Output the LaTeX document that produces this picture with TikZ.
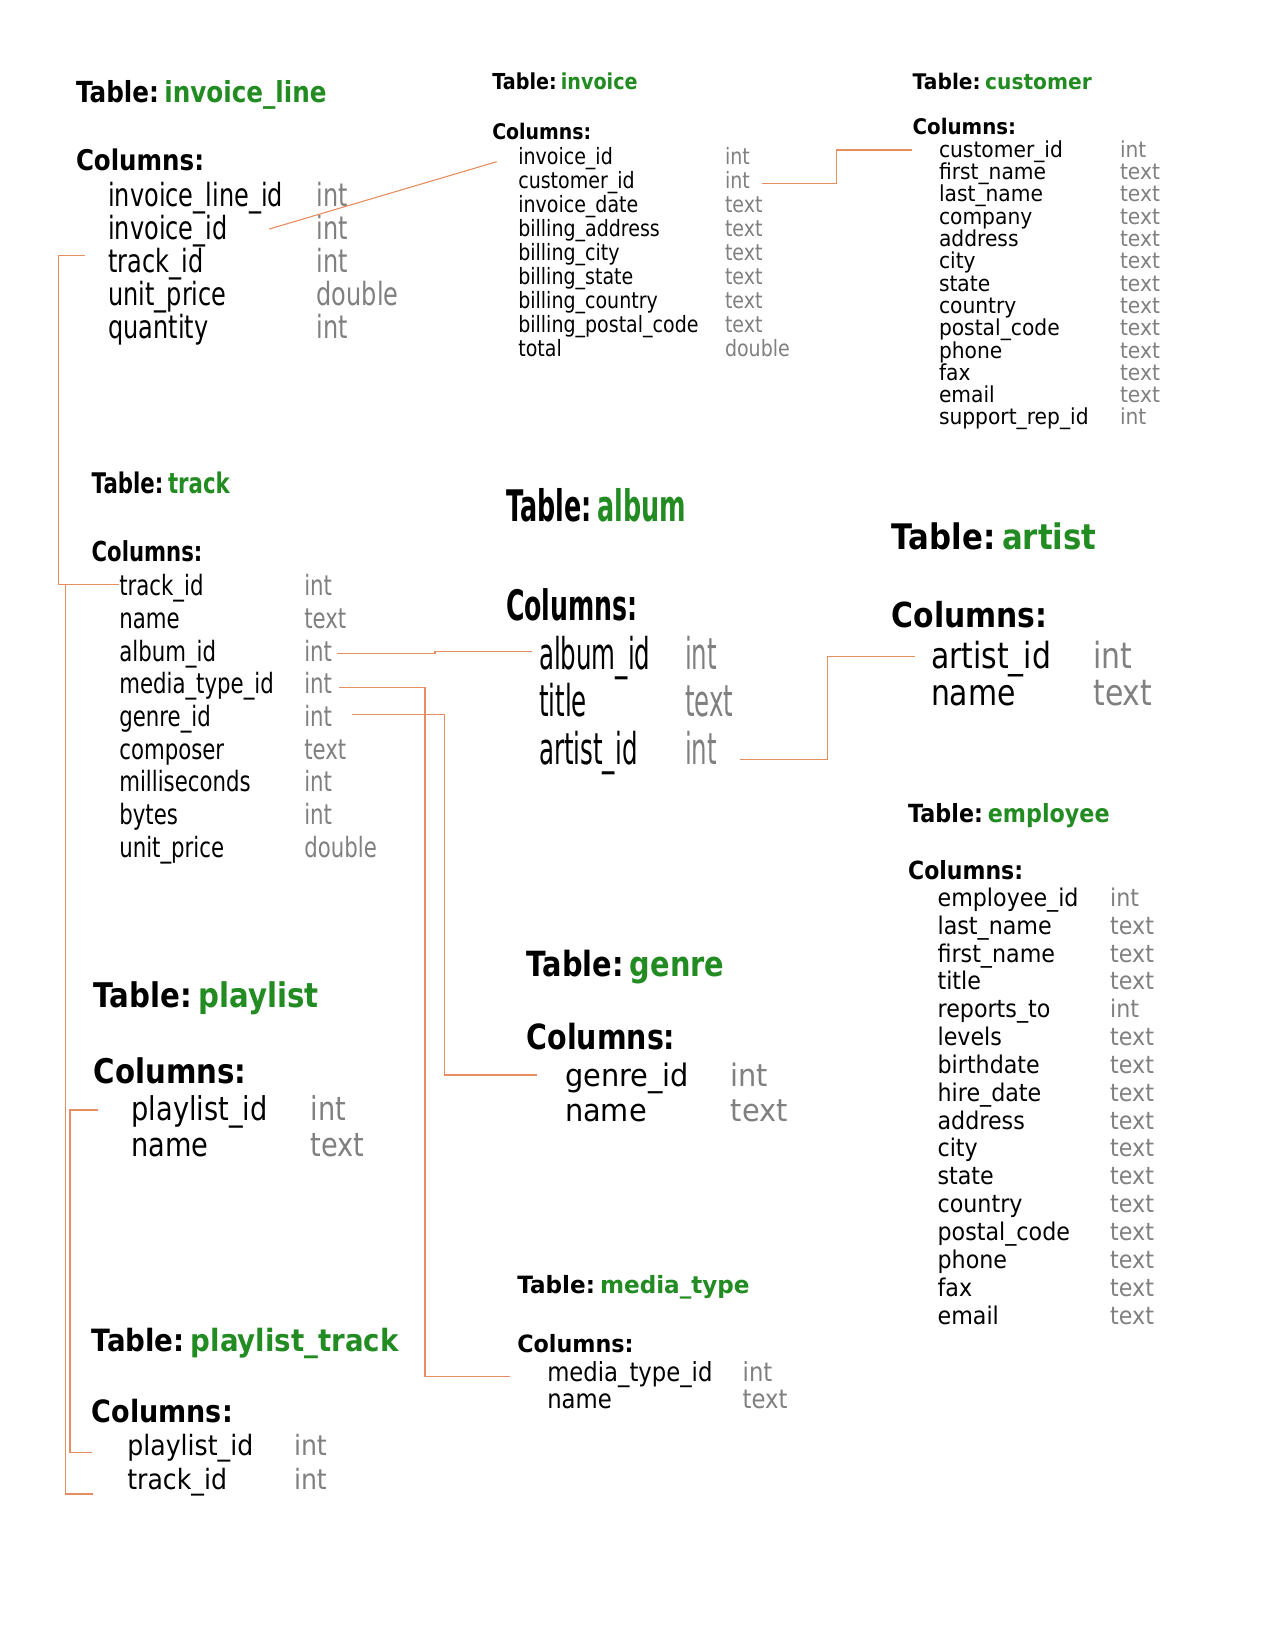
\documentclass[tikz,border=0pt]{standalone}
\usepackage{fontspec}
\setmainfont{DejaVu Sans}
\usepackage{graphicx}
\definecolor{tgreen}{RGB}{34,139,34}
\definecolor{tgray}{RGB}{128,128,128}
\definecolor{link}{RGB}{230,142,98}
\newcommand\Ttl[3]{\scalebox{#2}[1]{\fontsize{#1}{#1}\selectfont\bfseries Table:\hspace{0.22em}\textcolor{tgreen}{#3}}}
\newcommand\Colh[2]{\scalebox{#2}[1]{\fontsize{#1}{#1}\selectfont\bfseries Columns:}}
\newcommand\Rows[8]{%
  \foreach \nm/\ty [count=\i] in {#8}{%
    \node[txt] (#1-\i) at (#2,{#4+(\i-1)*#5}) {\scalebox{#7}[1]{\fontsize{#6}{#6}\selectfont\nm}};
    \node[txt] (#1-\i-t) at (#3,{#4+(\i-1)*#5}) {\scalebox{#7}[1]{\fontsize{#6}{#6}\selectfont\color{tgray}\ty}};
  }}
\begin{document}
\begin{tikzpicture}[x=1pt,y=-1pt,
  txt/.style={anchor=base west,inner sep=0pt,outer sep=0pt},
  fk/.style={draw=link,line width=1.1pt}]
\fill[white] (0,0) rectangle (1275,1650);
\useasboundingbox (0,0) rectangle (1275,1650);

% invoice_line
\node[txt] (il-h) at (76,102.3) {\Ttl{29}{0.85}{invoice\_line}};
\node[txt] (il-c) at (76,170.7) {\Colh{28.5}{0.86}};
\Rows{il}{108.3}{316.7}{206.7}{32.9}{32}{0.75}{invoice\_line\_id/int, invoice\_id/int, track\_id/int, unit\_price/double, quantity/int}

% invoice
\node[txt] (inv-h) at (492.3,89.3) {\Ttl{22}{0.87}{invoice}};
\node[txt] (inv-c) at (492.3,139.3) {\Colh{21.5}{0.88}};
\Rows{inv}{518.3}{725}{164.3}{24.05}{22.5}{0.845}{invoice\_id/int, customer\_id/int, invoice\_date/text, billing\_address/text, billing\_city/text, billing\_state/text, billing\_country/text, billing\_postal\_code/text, total/double}

% customer
\node[txt] (cus-h) at (912.7,89) {\Ttl{21.5}{0.94}{customer}};
\node[txt] (cus-c) at (912.7,134.3) {\Colh{21.5}{0.92}};
\Rows{cus}{939}{1120}{157.3}{22.3}{22}{0.92}{customer\_id/int, first\_name/text, last\_name/text, company/text, address/text, city/text, state/text, country/text, postal\_code/text, phone/text, fax/text, email/text, support\_rep\_id/int}

% track
\node[txt] (trk-h) at (91.7,493.3) {\Ttl{28.4}{0.75}{track}};
\node[txt] (trk-c) at (91.7,561) {\Colh{27.5}{0.77}};
\Rows{trk}{119.3}{304.3}{595.7}{32.7}{28}{0.76}{track\_id/int, name/text, album\_id/int, media\_type\_id/int, genre\_id/int, composer/text, milliseconds/int, bytes/int, unit\_price/double}

% album
\node[txt] (alb-h) at (506,521) {\Ttl{43.5}{0.585}{album}};
\node[txt] (alb-c) at (506,620) {\Colh{42}{0.6}};
\Rows{alb}{539}{685}{669}{47.7}{43.8}{0.56}{album\_id/int, title/text, artist\_id/int}

% artist
\node[txt] (art-h) at (891.7,549) {\Ttl{35.2}{0.875}{artist}};
\node[txt] (art-c) at (891.7,627.7) {\Colh{34.5}{0.865}};
\Rows{art}{931}{1093.3}{668.3}{36.7}{36}{0.83}{artist\_id/int, name/text}

% employee
\node[txt] (emp-h) at (908.1,822.5) {\Ttl{25}{0.89}{employee}};
\node[txt] (emp-c) at (908.1,879.5) {\Colh{25}{0.88}};
\Rows{emp}{937.6}{1110.2}{906.3}{27.85}{24.4}{0.91}{employee\_id/int, last\_name/text, first\_name/text, title/text, reports\_to/int, levels/text, birthdate/text, hire\_date/text, address/text, city/text, state/text, country/text, postal\_code/text, phone/text, fax/text, email/text}

% genre
\node[txt] (gen-h) at (526.7,976) {\Ttl{34.7}{0.83}{genre}};
\node[txt] (gen-c) at (526.7,1049.3) {\Colh{34.7}{0.82}};
\Rows{gen}{565}{730.7}{1086.7}{35}{31}{0.93}{genre\_id/int, name/text}

% media_type
\node[txt] (med-h) at (517.3,1293.3) {\Ttl{23.8}{0.97}{media\_type}};
\node[txt] (med-c) at (517.3,1352.3) {\Colh{23.8}{0.935}};
\Rows{med}{547.3}{742.7}{1381.7}{26.7}{26.3}{0.865}{media\_type\_id/int, name/text}

% playlist
\node[txt] (pl-h) at (93.7,1007) {\Ttl{34}{0.86}{playlist}};
\node[txt] (pl-c) at (93.7,1083) {\Colh{34}{0.86}};
\Rows{pl}{131.5}{310.7}{1120}{36}{32.8}{0.83}{playlist\_id/int, name/text}

% playlist_track
\node[txt] (pt-h) at (91.7,1351) {\Ttl{30.7}{0.9}{playlist\_track}};
\node[txt] (pt-c) at (91.7,1422) {\Colh{30.7}{0.88}};
\Rows{pt}{127.3}{294}{1455.5}{34}{28}{0.9}{playlist\_id/int, track\_id/int}

% connectors
\draw[fk] ([xshift=161pt,yshift=10.6pt]il-2.base west) -- ([xshift=-21.6pt,yshift=2.6pt]inv-1.base west);
\draw[fk] ([xshift=36.7pt,yshift=5pt]inv-2-t.base west) -- ++(75,0) |- ([xshift=-27.3pt,yshift=7.3pt]cus-1.base west);
\draw[fk] ([xshift=-23.3pt,yshift=16.7pt]il-3.base west) -- ++(-26.7,0) |- ([yshift=11.4pt]trk-1.base west);
\draw[fk] ([yshift=11.4pt]trk-1.base west) -- ++(-53.6,0) |- ([xshift=-34pt,yshift=-4.5pt]pt-2.base west);
\draw[fk] ([xshift=-33.2pt,yshift=10pt]pl-1.base west) -- ++(-28.3,0) |- ([xshift=-35.6pt,yshift=2.7pt]pt-1.base west);
\draw[fk] ([xshift=32.4pt,yshift=7.7pt]trk-3-t.base west) -- ++(98.3,0) |- ([xshift=-7.3pt,yshift=17.3pt]alb-1.base west);
\draw[fk] ([xshift=35pt,yshift=6.6pt]trk-4-t.base west) -- ++(85.7,0) |- ([xshift=-37.3pt,yshift=5pt]med-1.base west);
\draw[fk] ([xshift=47.4pt,yshift=11.7pt]trk-5-t.base west) -- ++(92.6,0) |- ([xshift=-27.7pt,yshift=11.7pt]gen-1.base west);
\draw[fk] ([xshift=55pt,yshift=5pt]alb-3-t.base west) -- ++(87.7,0) |- ([xshift=-16pt,yshift=11.8pt]art-1.base west);
\end{tikzpicture}
\end{document}
